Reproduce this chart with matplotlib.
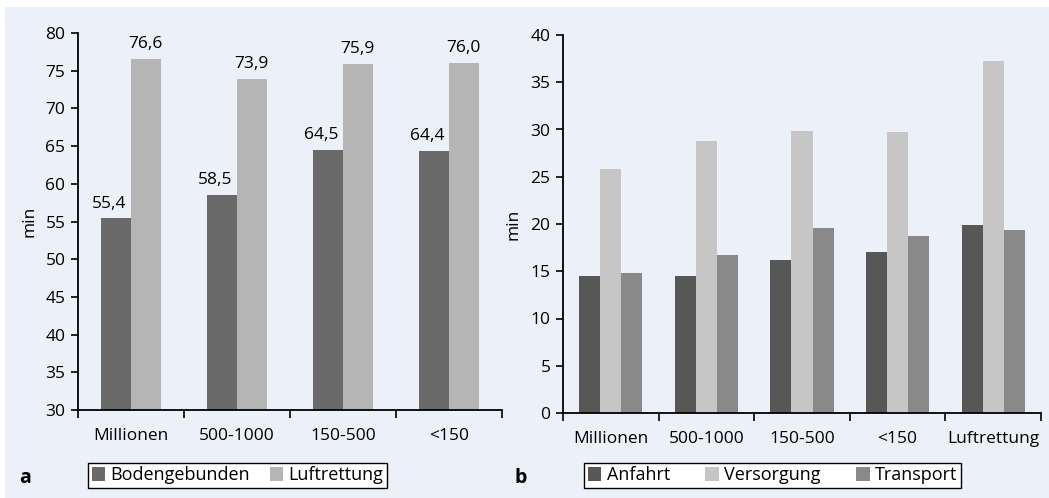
import matplotlib.pyplot as plt
import numpy as np

plt.rcParams['font.family'] = ['Open Sans', 'DejaVu Sans']
plt.rcParams['font.size'] = 12.5

# panel a: Gesamtzeit nach Ortsgröße
orte_a = ["Millionen", "500-1000", "150-500", "<150"]
boden = [55.4, 58.5, 64.5, 64.4]
luft = [76.6, 73.9, 75.9, 76.0]

# panel b: Teilzeiten
orte_b = ["Millionen", "500-1000", "150-500", "<150", "Luftrettung"]
anfahrt = [14.5, 14.5, 16.2, 17.0, 19.9]
versorgung = [25.8, 28.8, 29.8, 29.7, 37.2]
transport = [14.8, 16.7, 19.6, 18.7, 19.4]

bg = "#ebf0f9"
fig = plt.figure(figsize=(10.49, 4.98), dpi=100, facecolor="white")
fig.add_artist(plt.Rectangle((5 / 1049, 0), 1, 1 - 7 / 498, transform=fig.transFigure,
                             facecolor=bg, edgecolor="none", zorder=-5))


def style_axes(ax, n):
    ax.set_facecolor(bg)
    ax.spines["top"].set_visible(False)
    ax.spines["right"].set_visible(False)
    ax.spines["left"].set_linewidth(1.3)
    ax.spines["bottom"].set_linewidth(1.3)
    ax.tick_params(axis="y", direction="out", length=5, width=1.2, pad=4, labelsize=12.5)
    # labels in the middle of each group, tick marks on the group borders
    ax.tick_params(axis="x", which="major", length=0, pad=13, labelsize=12.5)
    ax.set_xticks(np.arange(n + 1) - 0.5, minor=True)
    ax.tick_params(axis="x", which="minor", direction="out", length=6, width=1.2)
    ax.set_ylabel("min", fontsize=12.5)


def legend(handles, left, right, ncol, spacing):
    leg = fig.legend(handles=handles, loc="lower left",
                     bbox_to_anchor=(left / 1049, 10 / 498, (right - left) / 1049, 26 / 498),
                     mode="expand", ncol=ncol, frameon=True, fancybox=False, edgecolor="black",
                     framealpha=1, handlelength=0.75, handleheight=0.75, handletextpad=0.3,
                     columnspacing=spacing, borderpad=0.2, borderaxespad=0, fontsize=13)
    leg.get_frame().set_linewidth(1.0)
    return leg


# --- a ---
ax1 = fig.add_axes([78 / 1049, 88 / 498, 424 / 1049, 377 / 498])
x = np.arange(len(orte_a))
w = 0.28
b1 = ax1.bar(x - w / 2, boden, w, color="#6a6a6a", label="Bodengebunden")
b2 = ax1.bar(x + w / 2, luft, w, color="#b5b5b5", label="Luftrettung")
for bars, dx in ((b1, -5), (b2, 0)):
    for r in bars:
        v = r.get_height()
        ax1.annotate(f"{v:.1f}".replace(".", ","), (r.get_x() + r.get_width() / 2, v),
                     xytext=(dx, 5), textcoords="offset points", ha="center", va="bottom",
                     fontsize=12.5)
ax1.set_ylim(30, 80)
ax1.set_yticks(range(30, 81, 5))
ax1.set_xlim(-0.43, 3.43)
ax1.set_xticks(x, orte_a)
style_axes(ax1, len(orte_a))
ax1.yaxis.set_label_coords(-0.095, 0.5)
legend([b1, b2], 88, 387, 2, 1.0)
fig.text(25 / 1049, 20 / 498, "a", fontsize=14, fontweight="bold", ha="center", va="center")

# --- b ---
ax2 = fig.add_axes([563 / 1049, 85 / 498, 478 / 1049, 378 / 498])
x = np.arange(len(orte_b))
w = 0.22
c1 = ax2.bar(x - w, anfahrt, w, color="#575755", label="Anfahrt")
c2 = ax2.bar(x, versorgung, w, color="#c5c6c5", label="Versorgung")
c3 = ax2.bar(x + w, transport, w, color="#898989", label="Transport")
ax2.set_ylim(0, 40)
ax2.set_yticks(range(0, 41, 5))
ax2.set_xlim(-0.49, 4.5)
ax2.set_xticks(x, orte_b)
style_axes(ax2, len(orte_b))
ax2.yaxis.set_label_coords(-0.086, 0.5)
legend([c1, c2, c3], 584, 961, 3, 2.0)
fig.text(521 / 1049, 20 / 498, "b", fontsize=14, fontweight="bold", ha="center", va="center")

plt.savefig("out.png", dpi=100, facecolor="white")
